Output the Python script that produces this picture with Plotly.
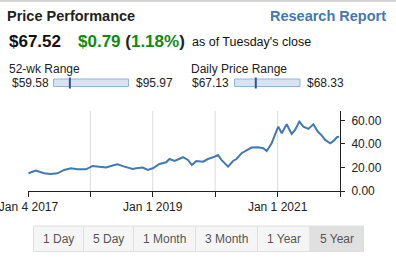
import plotly.graph_objects as go

# ---------------- data ----------------
dates = ["2017-01-04", "2017-02-15", "2017-04-05", "2017-05-14", "2017-06-22", "2017-08-01",
         "2017-09-09", "2017-10-18", "2017-12-06", "2018-01-14", "2018-02-22", "2018-04-03",
         "2018-05-21", "2018-06-10", "2018-07-19", "2018-09-06", "2018-09-26", "2018-11-04",
         "2018-12-03", "2019-01-01", "2019-02-10", "2019-03-21", "2019-04-09", "2019-05-09",
         "2019-06-27", "2019-07-26", "2019-08-18", "2019-09-13", "2019-10-22", "2019-11-20",
         "2019-12-30", "2020-01-18", "2020-02-07", "2020-03-17", "2020-04-15", "2020-05-05",
         "2020-06-04", "2020-07-03", "2020-08-01", "2020-09-09", "2020-10-09", "2020-10-29",
         "2020-11-27", "2020-12-16", "2021-01-05", "2021-01-25", "2021-02-23", "2021-03-24",
         "2021-04-13", "2021-05-08", "2021-06-01", "2021-06-30", "2021-07-29", "2021-08-24",
         "2021-09-17", "2021-10-06", "2021-11-05", "2021-11-24", "2021-12-14", "2021-12-27"]
prices = [15.1, 17.3, 15.1, 14.5, 15.0, 17.9,
          19.3, 18.4, 18.4, 21.3, 20.7, 20.0,
          22.1, 22.7, 20.7, 18.7, 19.3, 19.9,
          17.9, 19.3, 23.0, 24.4, 27.2, 25.5,
          28.7, 26.4, 22.1, 25.5, 24.9, 27.2,
          29.2, 30.6, 26.4, 20.7, 25.5, 27.2,
          32.1, 34.3, 36.9, 37.2, 36.3, 34.0,
          40.6, 47.7, 54.7, 49.1, 56.7, 48.5,
          51.9, 59.0, 54.7, 52.8, 56.7, 50.5,
          47.1, 43.4, 40.6, 42.6, 45.7, 46.2]

x_tick_vals = ["2017-01-04", "2018-01-01", "2019-01-01", "2020-01-01", "2021-01-01", "2022-01-01"]
x_tick_text = ["Jan 4 2017", "", "Jan 1 2019", "", "Jan 1 2021", ""]
grid_dates = ["2018-01-01", "2019-01-01", "2020-01-01", "2021-01-01"]
y_tick_vals = [0, 20, 40, 60]

last_price = 67.52
change = 0.79
change_pct = 1.18
wk52_low, wk52_high = 59.58, 95.97
day_low, day_high = 67.13, 68.33
buttons = ["1 Day", "5 Day", "1 Month", "3 Month", "1 Year", "5 Year"]
active_button = "5 Year"

# ---------------- layout geometry ----------------
W, H = 396, 269
ML, MR, MT, MB = 28, 56, 111, 78
PW, PH = W - ML - MR, H - MT - MB
FONT = "Arial, Liberation Sans, sans-serif"


def px(x):
    return (x - ML) / PW


def py(y):
    return (H - MB - y) / PH


fig = go.Figure()
fig.add_trace(go.Scatter(x=dates, y=prices, mode="lines",
                         line=dict(color="#4279b4", width=2),
                         hoverinfo="skip", showlegend=False))

shapes = []
annotations = []

# top border
shapes.append(dict(type="rect", xref="paper", yref="paper", x0=px(0), x1=px(W), y0=py(0), y1=py(2),
                   fillcolor="#d4d4d4", line=dict(width=0), layer="above"))

# grid lines
for d in grid_dates:
    shapes.append(dict(type="line", xref="x", yref="paper", x0=d, x1=d, y0=0, y1=1,
                       line=dict(color="#dadada", width=1), layer="below"))


def text(x, y, s, size=12, color="#222", anchor="left"):
    annotations.append(dict(xref="paper", yref="paper", x=px(x), y=py(y), text=s,
                            showarrow=False, xanchor=anchor, yanchor="middle",
                            font=dict(family=FONT, size=size, color=color)))


text(5, 16, "<b>Price Performance</b>", 14.5, "#222")
text(388, 16, "<b>Research Report</b>", 14.5, "#4677ad", "right")
text(7, 41, "<b>$%.2f</b>" % last_price, 17, "#111")
text(76, 41, "<b>$%.2f <span style='color:#222'>(</span>%.2f%%<span style='color:#222'>)</span></b>"
     % (change, change_pct), 17, "#128a12")
text(190, 42, "as of Tuesday's close", 12.5, "#111")

text(7, 69, "52-wk Range", 12, "#222")
text(189, 69, "Daily Price Range", 12, "#222")


def range_bar(x_label_l, x0, x1, x_label_r, lo, hi, cur):
    text(x_label_l, 83, "$%.2f" % lo, 12, "#222")
    shapes.append(dict(type="rect", xref="paper", yref="paper", x0=px(x0), x1=px(x1),
                       y0=py(86.5), y1=py(79), fillcolor="#d5e3f5",
                       line=dict(color="#93b3dd", width=1), layer="above"))
    m = x0 + (cur - lo) / (hi - lo) * (x1 - x0)
    shapes.append(dict(type="rect", xref="paper", yref="paper", x0=px(m - 1), x1=px(m + 1),
                       y0=py(88.5), y1=py(77.5), fillcolor="#3b4f8c",
                       line=dict(width=0), layer="above"))
    text(x_label_r, 83, "$%.2f" % hi, 12, "#222")


range_bar(10, 53.5, 128.5, 134, wk52_low, wk52_high, last_price)
range_bar(190, 234.5, 300, 305, day_low, day_high, last_price)

# period buttons
edges = [33.5, 83.5, 133.5, 195.5, 257.5, 310, 363.5]
for i, b in enumerate(buttons):
    active = b == active_button
    shapes.append(dict(type="rect", xref="paper", yref="paper", x0=px(edges[i]), x1=px(edges[i + 1]),
                       y0=py(251.5), y1=py(226), fillcolor="#e0e0e0" if active else "#f5f5f5",
                       line=dict(color="#dedede", width=1), layer="above"))
    text((edges[i] + edges[i + 1]) / 2, 239, b, 12, "#555", "center")

fig.update_layout(
    width=W, height=H,
    margin=dict(l=ML, r=MR, t=MT, b=MB, autoexpand=False),
    paper_bgcolor="white", plot_bgcolor="white",
    showlegend=False,
    font=dict(family=FONT, size=12, color="#222"),
    xaxis=dict(type="date", range=["2017-01-01", "2022-01-01"],
               tickvals=x_tick_vals, ticktext=x_tick_text,
               showgrid=False, zeroline=False,
               showline=True, linecolor="#222", linewidth=1,
               ticks="outside", ticklen=5, tickcolor="#222",
               ticklabeloverflow="allow",
               tickfont=dict(family=FONT, size=12, color="#222")),
    yaxis=dict(range=[0, 68], side="right", tickvals=y_tick_vals, tickformat=".2f",
               showgrid=False, zeroline=False,
               showline=True, linecolor="#222", linewidth=1,
               ticks="outside", ticklen=4, tickcolor="#222", ticklabelstandoff=4,
               tickfont=dict(family=FONT, size=12, color="#222")),
    shapes=shapes,
    annotations=annotations,
)

fig.write_html("out.html")
